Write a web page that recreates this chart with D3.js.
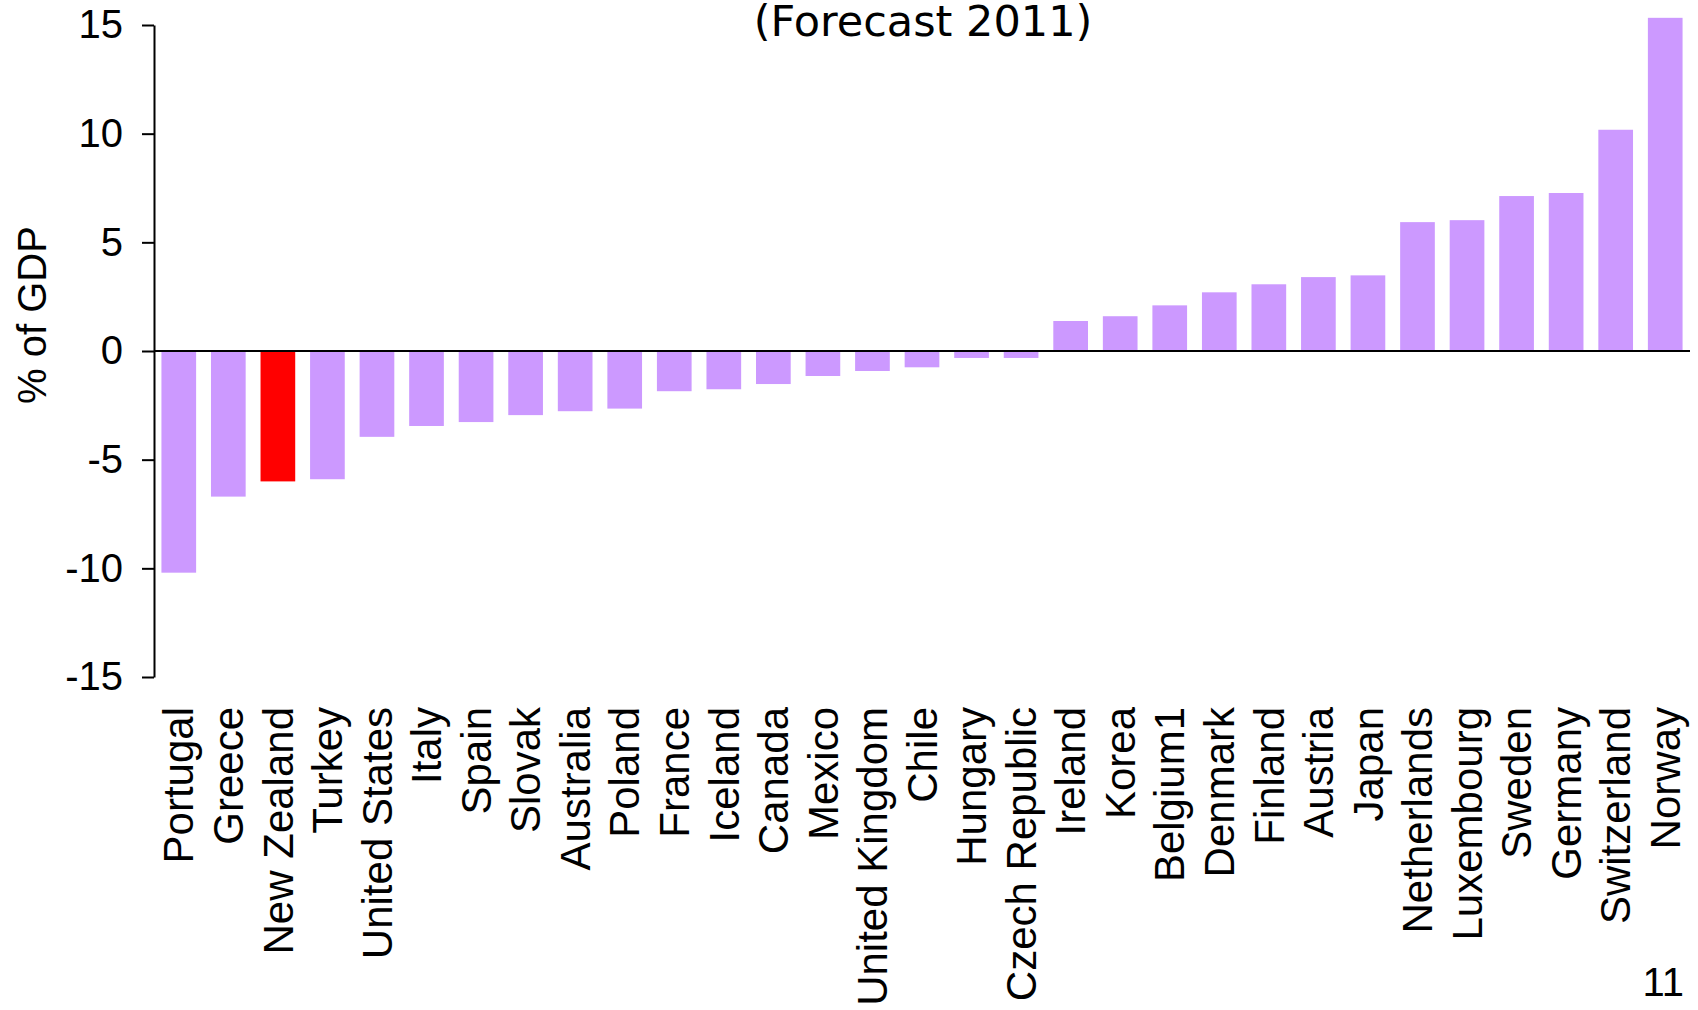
<!DOCTYPE html>
<html>
<head>
<meta charset="utf-8">
<script src="https://cdn.jsdelivr.net/npm/d3@7"></script>
<style>
html,body{margin:0;padding:0;background:#fff;}
svg{display:block;}
</style>
</head>
<body>
<script>
const countries = ["Portugal","Greece","New Zealand","Turkey","United States","Italy","Spain","Slovak","Australia","Poland","France","Iceland","Canada","Mexico","United Kingdom","Chile","Hungary","Czech Republic","Ireland","Korea","Belgium1","Denmark","Finland","Austria","Japan","Netherlands","Luxembourg","Sweden","Germany","Switzerland","Norway"];
const values = [-10.2,-6.7,-6.0,-5.9,-3.95,-3.45,-3.27,-2.95,-2.77,-2.65,-1.85,-1.76,-1.52,-1.15,-0.92,-0.75,-0.32,-0.32,1.38,1.6,2.1,2.7,3.07,3.4,3.48,5.93,6.02,7.13,7.27,10.18,15.33];
const highlighted = ["New Zealand"];
const yTicks = [-15,-10,-5,0,5,10,15];
const titleText = "(Forecast 2011)";
const yLabel = "% of GDP";
const pageNumber = "11";

const W = 1698, H = 1010;
const svg = d3.select("body").append("svg").attr("width", W).attr("height", H);

const x = d3.scaleBand().domain(countries).range([154, 1690]).paddingInner(0.3).paddingOuter(0.15);
const y = d3.scaleLinear().domain([-15, 15]).range([677, 25]);

const data = countries.map((c, i) => ({c, v: values[i]}));

svg.append("g").selectAll("rect").data(data).join("rect")
  .attr("x", d => x(d.c))
  .attr("width", x.bandwidth())
  .attr("y", d => y(Math.max(0, d.v)))
  .attr("height", d => Math.abs(y(d.v) - y(0)))
  .attr("fill", d => highlighted.includes(d.c) ? "#FF0000" : "#CC99FF");

// y axis
const yAxis = svg.append("g").attr("transform", "translate(154,0)")
  .call(d3.axisLeft(y).tickValues(yTicks).tickSize(12).tickSizeOuter(0).tickPadding(19).tickFormat(d => String(d)));
yAxis.select(".domain").attr("stroke", "#000").attr("stroke-width", 2);
yAxis.selectAll(".tick line").attr("stroke", "#000").attr("stroke-width", 2);
yAxis.selectAll(".tick text").attr("font-family", "'Liberation Sans', Arial, sans-serif").attr("font-size", 40).attr("fill", "#000");

// zero line
svg.append("line").attr("x1", 154).attr("x2", 1690).attr("y1", y(0)).attr("y2", y(0))
  .attr("stroke", "#000").attr("stroke-width", 2);

// category labels
svg.append("g").selectAll("text").data(countries).join("text")
  .attr("transform", d => `translate(${x(d) + x.bandwidth()/2},707) rotate(-90)`)
  .attr("dy", "0.35em")
  .attr("text-anchor", "end")
  .attr("font-family", "'Liberation Sans', Arial, sans-serif")
  .attr("font-size", 42)
  .attr("fill", "#000")
  .text(d => d);

// y label
svg.append("text")
  .attr("transform", "translate(46,315) rotate(-90)")
  .attr("text-anchor", "middle")
  .attr("font-family", "'Liberation Sans', Arial, sans-serif")
  .attr("font-size", 40)
  .attr("fill", "#000")
  .text(yLabel);

// title
svg.append("text")
  .attr("x", 923).attr("y", 36)
  .attr("text-anchor", "middle")
  .attr("font-family", "'DejaVu Sans', Verdana, sans-serif")
  .attr("font-size", 43)
  .attr("fill", "#000")
  .text(titleText);

// page number
svg.append("text")
  .attr("x", 1684).attr("y", 996)
  .attr("text-anchor", "end")
  .attr("font-family", "'Liberation Sans', Arial, sans-serif")
  .attr("font-size", 40)
  .attr("fill", "#000")
  .text(pageNumber);
</script>
</body>
</html>
